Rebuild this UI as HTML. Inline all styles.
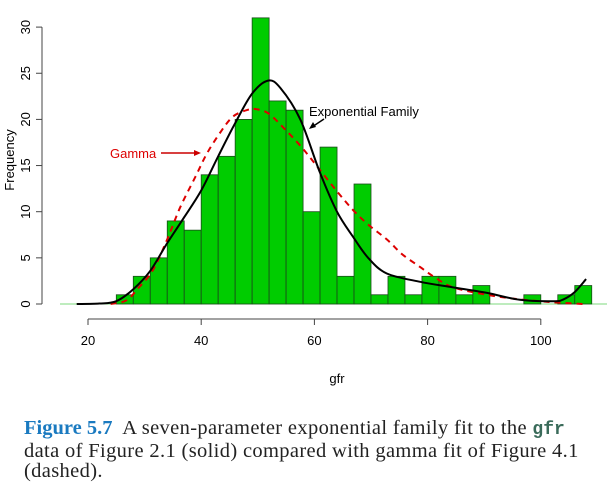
<!DOCTYPE html>
<html><head><meta charset="utf-8"><style>
body{margin:0;background:#fff;width:607px;height:491px;overflow:hidden}
svg{position:absolute;left:0;top:0}
.cap{position:absolute;left:24px;top:418px;width:590px;font-family:"Liberation Serif",serif;font-size:20.5px;line-height:20.5px;color:#222;letter-spacing:0.35px;white-space:nowrap}
.cap b{color:#1a7ac0;letter-spacing:0}
.cap code{font-family:"Liberation Mono",monospace;font-weight:bold;color:#3a6b5a;font-size:18px;letter-spacing:0}
</style></head><body>
<svg id="chart" width="607" height="410"></svg>
<div class="cap"><b>Figure 5.7</b>&nbsp; A seven-parameter exponential family fit to the <code>gfr</code><br>data of Figure 2.1 (solid) compared with gamma fit of Figure 4.1<br>(dashed).</div>
<script>
const binStart = 25;
const binWidth = 3;
const counts = [1,3,5,9,8,14,16,20,31,22,21,10,17,3,13,1,3,1,3,3,1,2,0,0,1,0,1,2];
const expX = [18,22,25,28,31,34,37,40,43,46,49,51.8,54,57.5,61,64,66.8,69.5,72.8,78.7,84.5,90.5,96.3,102.2,104,106,108];
const expY = [0,0.05,0.3,1.6,3.6,6.6,9.4,12.3,16,19.6,22.8,24.2,23.4,20,14.2,10,7.3,5.0,3.3,2.4,1.8,1.2,0.45,0.3,0.5,1.3,2.7];
const gamX = [24,26.8,29,31.5,34,36.3,39,41,43.5,45.6,48,49.8,52,55,58,61,64,66.8,69.5,72.8,75.5,78.7,81.5,84.5,90.5,96.3,102,107.4];
const gamY = [0,0.4,1.8,3.7,7,10.5,13.8,16.3,18.7,20.3,21,21.1,20.6,18.8,16.8,14.5,12.2,10.2,8.6,7.0,5.4,4,2.8,1.8,1,0.5,0.2,0];
const xTicks = [20,40,60,80,100];
const yTicks = [0,5,10,15,20,25,30];
const NS='http://www.w3.org/2000/svg';
const svg=document.getElementById('chart');
const sx=v=>88+(v-20)*5.66;
const sy=v=>304-v*9.23;
function mk(t,a,p){const e=document.createElementNS(NS,t);for(const k in a)e.setAttribute(k,a[k]);(p||svg).appendChild(e);return e;}
const F='font-family:"Liberation Sans",sans-serif;font-size:13px';
let e=mk('line',{x1:60,x2:607,y1:304,y2:304,stroke:'#7cd87c','stroke-width':1});


counts.forEach((c,i)=>{
  if(c<=0)return;
  const x0=sx(binStart+i*binWidth),x1=sx(binStart+(i+1)*binWidth);
  const r=mk('rect',{x:x0,y:sy(c),width:x1-x0,height:sy(0)-sy(c),fill:'#00cc00',stroke:'#1a4a1a','stroke-width':0.8});
  
  
});
function path(xs,ys){
  const p=xs.map((x,i)=>[sx(x),sy(ys[i])]);
  let d='M'+p[0][0].toFixed(1)+','+p[0][1].toFixed(1);
  for(let i=0;i<p.length-1;i++){
    const p0=p[Math.max(0,i-1)],p1=p[i],p2=p[i+1],p3=p[Math.min(p.length-1,i+2)];
    const c1=[p1[0]+(p2[0]-p0[0])/6,p1[1]+(p2[1]-p0[1])/6];
    const c2=[p2[0]-(p3[0]-p1[0])/6,p2[1]-(p3[1]-p1[1])/6];
    d+='C'+c1.map(v=>v.toFixed(1)).join(',')+' '+c2.map(v=>v.toFixed(1)).join(',')+' '+p2.map(v=>v.toFixed(1)).join(',');
  }
  return d;
}
e=mk('path',{d:path(gamX,gamY),fill:'none',stroke:'#dd0000','stroke-width':2,'stroke-dasharray':'6,5'});


e=mk('path',{d:path(expX,expY),fill:'none',stroke:'#000','stroke-width':2});


e=mk('line',{x1:sx(20),x2:sx(100),y1:319,y2:319,stroke:'#444'});


xTicks.forEach(v=>{
  mk('line',{x1:sx(v),x2:sx(v),y1:319,y2:325,stroke:'#444'});
  const t=mk('text',{x:sx(v),y:345,'text-anchor':'middle',style:F});t.textContent=v;
  
  
});
e=mk('line',{x1:42,x2:42,y1:sy(0),y2:sy(30),stroke:'#444'});


yTicks.forEach(v=>{
  mk('line',{x1:36,x2:42,y1:sy(v),y2:sy(v),stroke:'#444'});
  const t=mk('text',{x:30,y:sy(v),'text-anchor':'middle',transform:`rotate(-90 30 ${sy(v)})`,style:F});t.textContent=v;
  
  
});
e=mk('text',{x:337,y:383,'text-anchor':'middle',style:F});e.textContent='gfr';


e=mk('text',{x:14,y:160,'text-anchor':'middle',transform:'rotate(-90 14 160)',style:F});e.textContent='Frequency';


e=mk('text',{x:309,y:116,style:F});e.textContent='Exponential Family';


mk('line',{x1:324,x2:312,y1:119,y2:127,stroke:'#000','stroke-width':1.5});
mk('path',{d:'M309,129 L313,122 L316,127 Z',fill:'#000'});
e=mk('text',{x:110,y:158,style:F+';fill:#dd0000'});e.textContent='Gamma';


mk('line',{x1:161,x2:196,y1:153,y2:153,stroke:'#cc0000','stroke-width':1.5});
mk('path',{d:'M201,153 L194,150 L194,156 Z',fill:'#cc0000'});
</script>
</body></html>
